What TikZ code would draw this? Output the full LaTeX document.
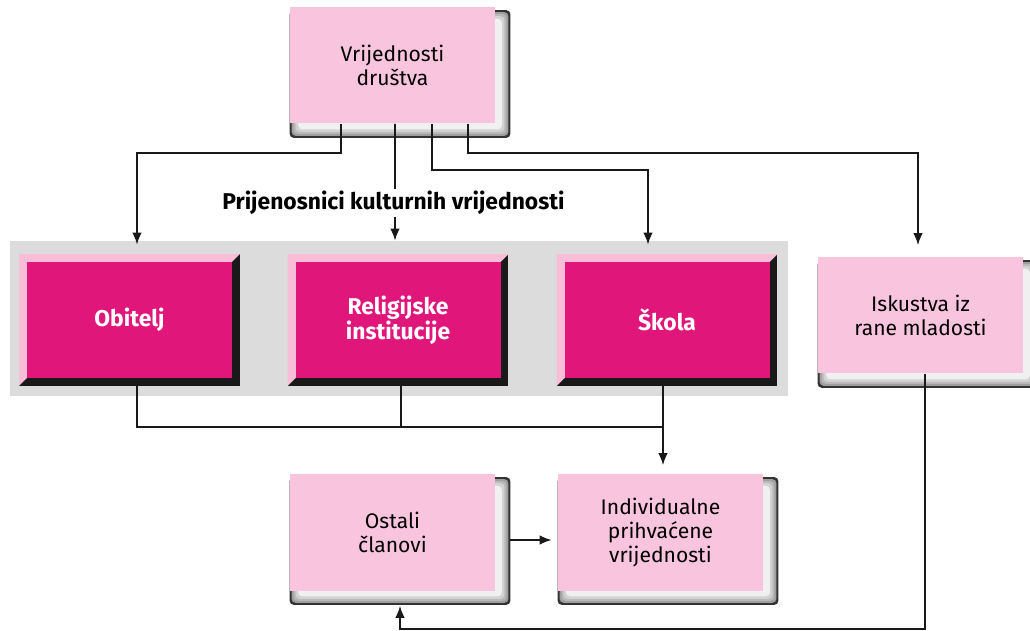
\documentclass[tikz,border=0pt]{standalone}
\usepackage{fontspec}
\setmainfont{Fira Sans}
\usetikzlibrary{positioning, calc, arrows.meta, backgrounds}

\definecolor{boxpink}{RGB}{249,196,221}
\definecolor{bevelpink}{RGB}{248,190,216}
\definecolor{boxmagenta}{RGB}{224,22,122}
\definecolor{bandgray}{RGB}{220,220,220}

\tikzset{
  pinkbox/.style={fill=boxpink, minimum width=4.1cm, minimum height=2.32cm,
    align=center, inner sep=0pt, font=\fontsize{12}{13.4}\selectfont},
  magbox/.style={fill=boxmagenta, text=white, minimum width=4.1cm, minimum height=2.32cm,
    align=center, inner sep=0pt, font=\fontsize{13}{14.4}\selectfont\bfseries},
  link/.style={line width=1pt, black!90},
  arr/.style={link, -{Latex[length=2.4mm,width=1.9mm]}},
}

\newcommand{\boxshadow}[1]{%
  \foreach \d/\c in {0/black!80, 0.04/gray!75, 0.08/gray!55, 0.12/gray!35, 0.17/gray!12}
    \fill[\c, rounded corners=0.08cm]
      ([xshift=\d cm, yshift=-0.06cm-\d cm]#1.north west) rectangle
      ([xshift=0.3cm-\d cm, yshift=-0.28cm+\d cm]#1.south east);
}
\newcommand{\bevelframe}[1]{%
  \fill[black!90] ([shift={(-0.15,0.15)}]#1.north west) rectangle ([shift={(0.15,-0.15)}]#1.south east);
  \fill[bevelpink] ([shift={(-0.15,0.15)}]#1.north west) -- ([shift={(0.15,0.15)}]#1.north east)
    -- (#1.north east) -- (#1.south west) -- ([shift={(-0.15,-0.15)}]#1.south west) -- cycle;
}

\begin{document}
\begin{tikzpicture}
  \useasboundingbox (0,0) rectangle (20.6,-12.62);

  \node[pinkbox] (soc) at (7.85,-1.31) {Vrijednosti\\društva};
  \node[magbox] (obitelj) at (2.59,-6.40) {Obitelj};
  \node[magbox] (relig) at (7.96,-6.40) {Religijske\\institucije};
  \node[magbox] (skola) at (13.34,-6.40) {Škola};
  \node[pinkbox] (exp) at (18.41,-6.31) {Iskustva iz\\rane mladosti};
  \node[pinkbox] (ostali) at (7.85,-10.65) {Ostali\\članovi};
  \node[pinkbox] (indiv) at (13.21,-10.65) {Individualne\\prihvaćene\\vrijednosti};

  \begin{scope}[on background layer]
    \fill[bandgray] (0.2,-4.82) rectangle (15.76,-7.92);
    \foreach \b in {obitelj, relig, skola} {\bevelframe{\b}}
    \foreach \b in {soc, exp, ostali, indiv} {\boxshadow{\b}}
  \end{scope}

  \draw[arr] ([xshift=-1.03cm]soc.south) -- ++(0,-0.58) -| ([xshift=0.15cm,yshift=0.34cm]obitelj.north);
  \draw[arr] ([xshift=0.05cm]soc.south) -- ([xshift=-0.06cm,yshift=0.42cm]relig.north);
  \draw[arr] ([xshift=0.79cm]soc.south) -- ++(0,-0.92) -| ([xshift=-0.38cm,yshift=0.34cm]skola.north);
  \draw[arr] ([xshift=1.51cm]soc.south) -- ++(0,-0.58) -| ([xshift=-0.05cm,yshift=0.24cm]exp.north);
  \node[font=\fontsize{13}{14.4}\selectfont\bfseries, fill=white, inner sep=1.5pt]
    (carriers) at (7.87,-4.06) {Prijenosnici kulturnih vrijednosti};

  \draw[link] ([xshift=0.15cm]obitelj.south) -- ++(0,-0.98) -| ([xshift=-0.08cm]skola.south);
  \draw[link] ([xshift=0.06cm]relig.south) -- ++(0,-0.98);
  \draw[arr] ([xshift=-0.08cm]skola.south) -- ([xshift=0.05cm,yshift=0.18cm]indiv.north);

  \draw[arr] ([xshift=0.09cm]exp.south) -- ++(0,-5.1) -| ([xshift=0.15cm,yshift=-0.30cm]ostali.south);
  \draw[arr] ([xshift=0.3cm,yshift=-0.15cm]ostali.east) -- ([xshift=-0.12cm,yshift=-0.15cm]indiv.west);
\end{tikzpicture}
\end{document}
